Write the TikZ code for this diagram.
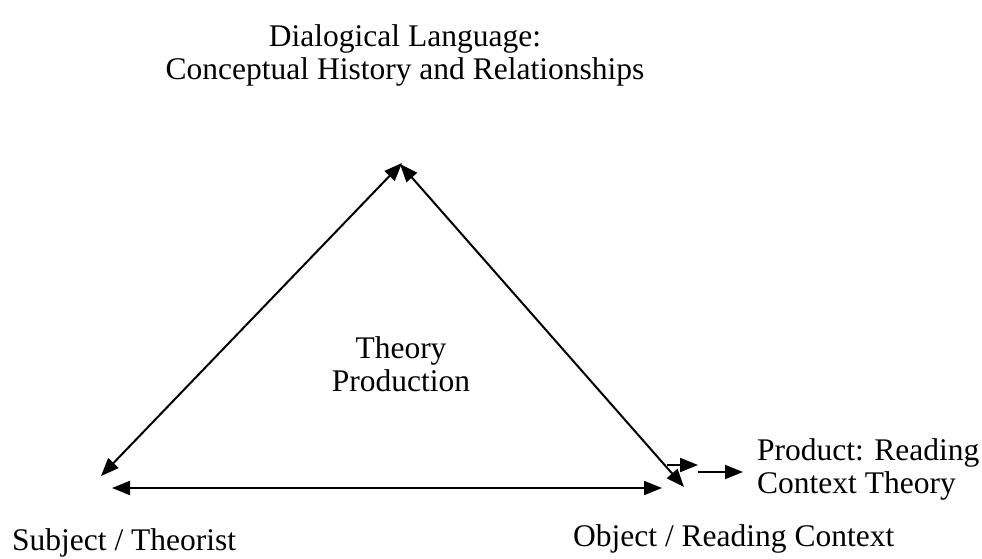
\documentclass[tikz,border=0pt]{standalone}
\usepackage{fontspec}
\setmainfont{Liberation Serif}
\usetikzlibrary{arrows.meta}
\begin{document}
\begin{tikzpicture}[x=1pt, y=-1pt,
    every node/.style={font=\fontsize{31.5}{33}\selectfont, inner sep=0pt},
    flecha/.style={line width=2pt, -{Triangle[length=18pt,width=14pt]}},
    dobleflecha/.style={line width=2pt, {Triangle[length=18pt,width=14pt]}-{Triangle[length=18pt,width=14pt]}}]
    % Marco del dibujo
    \useasboundingbox (0,0) rectangle (982,558);

    % Vertices del triangulo
    \coordinate (apiceIzq) at (402,163);
    \coordinate (apiceDer) at (400,164);
    \coordinate (sujeto) at (101,476);
    \coordinate (objeto) at (684,487);
    \coordinate (baseIzq) at (112,488);
    \coordinate (baseDer) at (662,488);
    \coordinate (salidaA) at (667,465);
    \coordinate (salidaB) at (698,465);
    \coordinate (productoA) at (698,472);
    \coordinate (productoB) at (743,472);

    % Textos
    \node[anchor=north, align=center] (lenguaje) at (405,24)
        {Dialogical Language:\\Conceptual History and Relationships};
    \node[anchor=north, align=center] (teoria) at (401,336) {Theory\\Production};
    \node[anchor=north west, align=left] (producto) at (757,438)
        {Product: Reading\\Context Theory};
    \node[anchor=base west] (teorista) at (12,550) {Subject / Theorist};
    \node[anchor=base west] (contexto) at (573,546) {Object / Reading Context};

    % Lados del triangulo
    \draw[dobleflecha] (sujeto) -- (apiceIzq);
    \draw[dobleflecha] (apiceDer) -- (objeto);
    \draw[dobleflecha] (baseIzq) -- (baseDer);

    % Salida hacia el producto
    \draw[flecha] (salidaA) -- (salidaB);
    \draw[flecha] (productoA) -- (productoB);
\end{tikzpicture}
\end{document}
